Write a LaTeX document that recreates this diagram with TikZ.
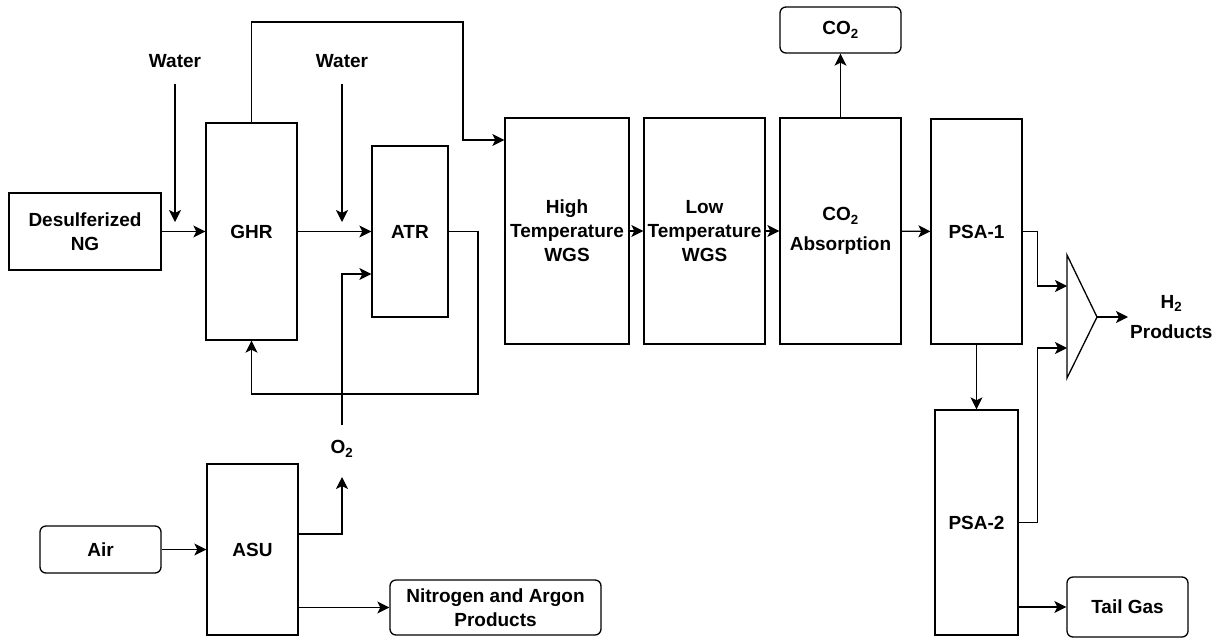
\documentclass[tikz,border=0pt]{standalone}
\usepackage{fontspec}
\setmainfont{Liberation Sans}
\usetikzlibrary{arrows.meta}

\begin{document}
\begin{tikzpicture}[x=1pt, y=-1pt,
  box/.style={draw, line width=1.3pt, align=center, inner sep=0pt, font=\fontsize{19}{24}\selectfont\bfseries},
  rbox/.style={box, rounded corners=6pt},
  lbl/.style={align=center, inner sep=2pt, font=\fontsize{19}{24}\selectfont\bfseries},
  arr/.style={-{Stealth[length=12pt, width=12pt, inset=3pt]}, line width=1.3pt},
  pipe/.style={line width=1.3pt, line join=miter}]
\useasboundingbox (0,0) rectangle (1223,638);
% main train
\node[box, minimum width=152pt, minimum height=77pt] (ng) at (85,231.5) {Desulferized\\NG};
\node[box, minimum width=91pt, minimum height=217pt] (ghr) at (251.5,231.5) {GHR};
\node[box, minimum width=76pt, minimum height=171pt] (atr) at (410,231.5) {ATR};
\node[box, minimum width=124pt, minimum height=226pt] (ht) at (567,231) {High\\Temperature\\WGS};
\node[box, minimum width=121pt, minimum height=226pt] (lt) at (704.5,231) {Low\\Temperature\\WGS};
\node[box, minimum width=121pt, minimum height=226pt] (abs) at (840.5,231) {CO\textsubscript{2}\\[6pt]Absorption};
\node[rbox, minimum width=121pt, minimum height=46pt] (co2) at (840.5,30) {CO\textsubscript{2}};
\node[box, minimum width=91pt, minimum height=225pt] (psa1) at (976.5,231.5) {PSA-1};
\node[box, minimum width=83pt, minimum height=225pt] (psa2) at (976.5,522.5) {PSA-2};
\node[rbox, minimum width=121pt, minimum height=60pt] (tail) at (1127.5,607) {Tail Gas};
% air separation
\node[box, minimum width=91pt, minimum height=171pt] (asu) at (252.5,549.5) {ASU};
\node[rbox, minimum width=121pt, minimum height=47pt] (air) at (100.5,549.5) {Air};
\node[rbox, minimum width=211pt, minimum height=55pt] (n2) at (495.5,607.5) {Nitrogen and Argon\\Products};
% labels
\node[lbl] (w1) at (175,61) {Water};
\node[lbl] (w2) at (342,61) {Water};
\node[lbl] (o2) at (342,449) {O\textsubscript{2}};
\node[lbl, anchor=west] (h2) at (1128,317) {H\textsubscript{2}\\[6pt]Products};
% mixer
\coordinate (mixT) at (1067,255); \coordinate (mixB) at (1067,378); \coordinate (mixO) at (1097,317);
\coordinate (mix1) at (1067,286); \coordinate (mix2) at (1067,348);
\draw[pipe] (mixT) -- (mixO) -- (mixB) -- cycle;
% free ends
\coordinate (w1s) at (175,84); \coordinate (w1e) at (175,222);
\coordinate (w2s) at (342,84); \coordinate (w2e) at (342,222);
\coordinate (o2s) at (342,425); \coordinate (o2e) at (342,477);
% streams
\draw[arr] (w1s) -- (w1e); \draw[arr] (w2s) -- (w2e);
\draw[arr] (ng) -- (ghr); \draw[arr] (ghr) -- (atr);
\draw[arr] (ghr.north) -- (251.5,22) -| (463,140) -- (ht.west |- 463,140);
\draw[arr] (atr.east) -| (478,394) -| (ghr.south);
\draw[arr] (o2s) |- (atr.west |- 342,274);
\draw[arr] (ht) -- (lt); \draw[arr] (lt) -- (abs); \draw[arr] (abs) -- (psa1);
\draw[arr] (abs.north) -- (co2.south);
\draw[arr] (psa1.east) -- ++(15,0) |- (mix1);
\draw[arr] (psa2.east) -- ++(19,0) |- (mix2);
\draw[arr] (psa1.south) -- (psa2.north);
\draw[arr] (mixO) -- (h2.west |- mixO);
\draw[arr] (psa2.east |- tail.west) -- (tail.west);
\draw[arr] (air) -- (asu);
\draw[arr] (asu.east |- 298,534) -| (o2e);
\draw[arr] (asu.east |- n2.west) -- (n2.west);
\end{tikzpicture}
\end{document}
